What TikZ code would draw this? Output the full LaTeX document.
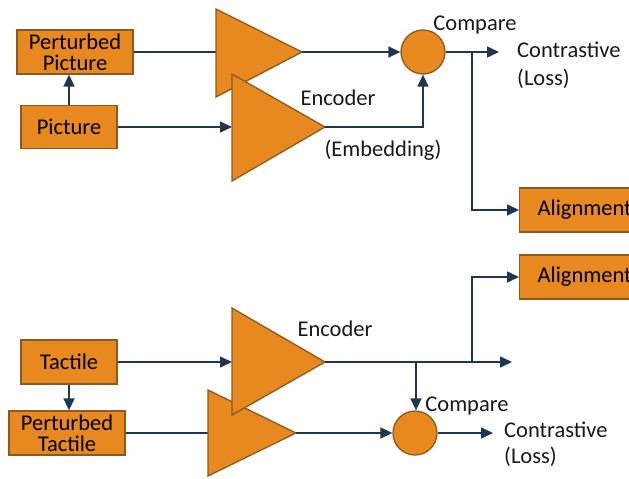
\documentclass[tikz,border=0pt]{standalone}
\usepackage{fontspec}
\setmainfont{Carlito}
\usetikzlibrary{arrows.meta}
\definecolor{orfill}{HTML}{E8891F}
\definecolor{orline}{HTML}{8A5A1E}
\definecolor{cline}{HTML}{1D3651}
\begin{document}
\begin{tikzpicture}[x=1pt,y=-1pt,
  every node/.style={font=\fontsize{22.5}{21}\selectfont},
  box/.style={draw=orline,fill=orfill,line width=1.3pt,inner sep=0pt,align=center},
  tri/.style={draw=orline,fill=orfill,line width=1.3pt,line join=miter},
  circ/.style={circle,draw=orline,fill=orfill,line width=1.3pt,minimum size=44pt,inner sep=0pt},
  lbl/.style={inner sep=0pt,text=black!90},
  conn/.style={draw=cline,line width=1.5pt},
  arr/.style={conn,-{Triangle[length=12pt,width=11pt]}}]
\useasboundingbox (0,0) rectangle (629,479);
% top section
\node[box,minimum width=116pt,minimum height=44pt] (PP) at (75,52) {Perturbed\\Picture};
\node[box,minimum width=96pt,minimum height=43pt] (Pic) at (69,127) {Picture};
\coordinate (T1in) at (216,52);
\coordinate (T1tip) at (302,52);
\coordinate (T2in) at (232,127);
\coordinate (T2tip) at (325,127);
\draw[conn] (PP.east) -- (T1in);
\draw[arr] (Pic.east) -- (T2in);
\draw[arr] (Pic.north) -- (Pic.north |- PP.south);
\draw[tri] (216,9) -- (T1tip) -- (216,97) -- cycle;
\draw[tri] (232,74) -- (T2tip) -- (232,181) -- cycle;
\node[circ] (C1) at (423,52) {};
\draw[arr] (T1tip) -- (C1.west);
\draw[arr] (T2tip) -| (C1.south);
\coordinate (L1) at (499,52);
\draw[arr] (C1.east) -- (L1);
\node[box,anchor=west,minimum height=44pt,inner xsep=18pt] (Al1) at (519,210) {Alignment};
\coordinate (B1) at (472,52);
\draw[arr] (B1) |- (Al1.west);
\node[lbl] (Cmp1) at (475,25) {Compare};
\node[lbl,anchor=west] (Con1) at (517,50) {Contrastive};
\node[lbl,anchor=west] (Los1) at (517,79) {(Loss)};
\node[lbl] (Enc1) at (338,98) {Encoder};
\node[lbl] (Emb1) at (383,150) {(Embedding)};
% bottom section
\node[box,minimum width=96pt,minimum height=44pt] (Tac) at (69,362) {Tactile};
\node[box,minimum width=116pt,minimum height=44pt] (PT) at (67,433) {Perturbed\\Tactile};
\coordinate (T3in) at (232,362);
\coordinate (T3tip) at (325,362);
\coordinate (T4in) at (208,433);
\coordinate (T4tip) at (296,433);
\draw[arr] (Tac.south) -- (Tac.south |- PT.north);
\draw[arr] (Tac.east) -- (T3in);
\draw[conn] (PT.east) -- (T4in);
\draw[tri] (208,390) -- (T4tip) -- (208,476) -- cycle;
\draw[tri] (232,308) -- (T3tip) -- (232,415) -- cycle;
\node[circ] (C2) at (415,433) {};
\draw[arr] (T4tip) -- (C2.west);
\coordinate (L2) at (512,362);
\draw[arr] (T3tip) -- (L2);
\node[box,anchor=west,minimum height=44pt,inner xsep=18pt] (Al2) at (519,277) {Alignment};
\coordinate (B2) at (472,362);
\draw[arr] (B2) |- (Al2.west);
\coordinate (B3) at (416,362);
\draw[arr] (B3) -- (B3 |- C2.north);
\coordinate (L3) at (493,433);
\draw[arr] (C2.east) -- (L3);
\node[lbl] (Cmp2) at (467,406) {Compare};
\node[lbl,anchor=west] (Con2) at (504,430) {Contrastive};
\node[lbl,anchor=west] (Los2) at (504,457) {(Loss)};
\node[lbl] (Enc2) at (335,329) {Encoder};
\end{tikzpicture}
\end{document}
